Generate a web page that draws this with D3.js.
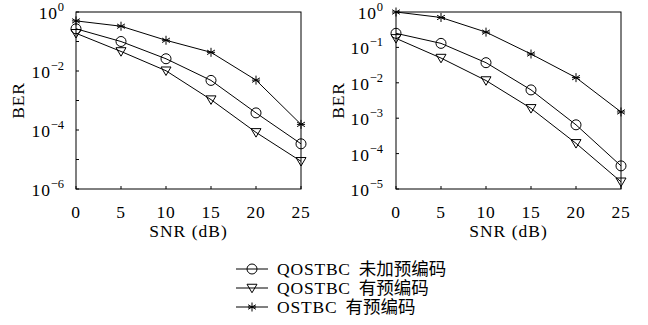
<!DOCTYPE html>
<html>
<head>
<meta charset="utf-8">
<script src="https://cdn.jsdelivr.net/npm/d3@7"></script>
<style>
  body { margin: 0; background: #fff; }
</style>
</head>
<body>
<div id="chart"></div>
<script>
// SNR points (dB)
const snr = [0, 5, 10, 15, 20, 25];

// left panel BER
const leftQoNo  = [0.27, 0.10, 0.026, 0.0048, 3.8e-4, 3.4e-5];
const leftQoPre = [0.19, 0.046, 0.0102, 0.00107, 8.3e-5, 8.7e-6];
const leftOPre  = [0.5, 0.33, 0.11, 0.043, 0.0049, 1.55e-4];

// right panel BER
const rightQoNo  = [0.25, 0.13, 0.037, 0.0063, 6.5e-4, 4.5e-5];
const rightQoPre = [0.18, 0.05, 0.0116, 0.0019, 1.95e-4, 1.6e-5];
const rightOPre  = [1.0, 0.7, 0.27, 0.065, 0.014, 0.0015];

const xTicks = [0, 5, 10, 15, 20, 25];
const leftExps = [0, -1, -2, -3, -4, -5, -6];
const leftLabelExps = [0, -2, -4, -6];
const rightExps = [0, -1, -2, -3, -4, -5];
const rightLabelExps = [0, -1, -2, -3, -4, -5];

const seriesLatin = ["QOSTBC", "QOSTBC", "OSTBC"];
const seriesCjk = ["未加预编码", "有预编码", "有预编码"];
const markers = ["circle", "triangle", "star"];

const FONT = "Liberation Serif";
const CJK = "Noto Sans CJK SC";
const FS = 17.5;

const W = 648, H = 325;
const svg = d3.select("#chart").append("svg")
  .attr("width", W).attr("height", H);

// every text gets its font set inline
function txt(g, fam) {
  fam = fam || FONT;
  return g.append("text").attr("font-family", fam).style("font-family", fam)
    .style("font-size", FS + "px").attr("fill", "#000");
}

function drawMarker(g, type, x, y) {
  if (type === "circle") {
    g.append("circle").attr("cx", x).attr("cy", y).attr("r", 5)
      .attr("fill", "none").attr("stroke", "#000").attr("stroke-width", 1);
  } else if (type === "triangle") {
    const s = 5;
    g.append("path")
      .attr("d", `M${x - s},${y - s * 0.75}L${x + s},${y - s * 0.75}L${x},${y + s * 0.95}Z`)
      .attr("fill", "none").attr("stroke", "#000").attr("stroke-width", 1);
  } else {
    const s = 4.5;
    const p = [];
    [0, 60, 120].forEach(a => {
      const r = a * Math.PI / 180;
      const dx = s * Math.sin(r), dy = s * Math.cos(r);
      p.push(`M${x - dx},${y - dy}L${x + dx},${y + dy}`);
    });
    p.push(`M${x - s * 0.9},${y}L${x + s * 0.9},${y}`);
    g.append("path").attr("d", p.join("")).attr("stroke", "#000").attr("stroke-width", 1);
  }
}

function panel(box, yMinExp, exps, labelExps, data) {
  const x = d3.scaleLinear().domain([0, 25]).range([box.l, box.r]);
  const y = d3.scaleLog().domain([Math.pow(10, yMinExp), 1]).range([box.b, box.t]);
  const g = svg.append("g");

  // frame
  g.append("rect").attr("x", box.l).attr("y", box.t)
    .attr("width", box.r - box.l).attr("height", box.b - box.t)
    .attr("fill", "none").attr("stroke", "#000").attr("stroke-width", 1);

  // x ticks (inward)
  xTicks.forEach(v => {
    g.append("line").attr("x1", x(v)).attr("x2", x(v))
      .attr("y1", box.b).attr("y2", box.b - 3).attr("stroke", "#000");
    txt(g).attr("x", x(v)).attr("y", box.b + 29)
      .attr("text-anchor", "middle")
      .style("letter-spacing", "0.8px").text(v);
  });

  // y ticks
  exps.forEach(e => {
    const yy = y(Math.pow(10, e));
    g.append("line").attr("x1", box.l).attr("x2", box.l + 3)
      .attr("y1", yy).attr("y2", yy).attr("stroke", "#000");
  });
  labelExps.forEach(e => {
    const yy = y(Math.pow(10, e));
    const t = txt(g).attr("x", box.l - box.gap).attr("y", yy + 7)
      .attr("text-anchor", "end");
    t.append("tspan").style("letter-spacing", "0.8px").text("10");
    t.append("tspan").attr("dy", -8).style("font-size", "12.5px")
      .text(e === 0 ? "0" : "\u2212" + (-e));
  });

  txt(g).attr("transform", `translate(${box.l - 52},${(box.t + box.b) / 2}) rotate(-90)`)
    .attr("text-anchor", "middle")
    .style("letter-spacing", "0.8px").text("BER");
  txt(g).attr("x", (box.l + box.r) / 2).attr("y", box.b + 48)
    .attr("text-anchor", "middle")
    .style("letter-spacing", "1px").text("SNR (dB)");

  const line = d3.line().x((d, i) => x(snr[i])).y(d => y(d));
  data.forEach((s, k) => {
    g.append("path").attr("d", line(s)).attr("fill", "none")
      .attr("stroke", "#000").attr("stroke-width", 1);
    s.forEach((v, i) => drawMarker(g, markers[k], x(snr[i]), y(v)));
  });
}

panel({ l: 76, r: 301, t: 12, b: 189, gap: 12 }, -6, leftExps, leftLabelExps,
  [leftQoNo, leftQoPre, leftOPre]);
panel({ l: 396, r: 621, t: 12, b: 189, gap: 13 }, -5, rightExps, rightLabelExps,
  [rightQoNo, rightQoPre, rightOPre]);

// legend
const lg = svg.append("g");
seriesLatin.forEach((name, k) => {
  const yy = 269 + k * 19;
  lg.append("line").attr("x1", 236).attr("x2", 268).attr("y1", yy).attr("y2", yy)
    .attr("stroke", "#000").attr("stroke-width", 1);
  drawMarker(lg, markers[k], 252, yy);
  const t = txt(lg).attr("x", 277).attr("y", yy + 5.5)
    .style("letter-spacing", "0.8px").text(name);
  const w = t.node().getComputedTextLength();
  txt(lg, CJK).attr("x", 277 + w + 8).attr("y", yy + 5.5).text(seriesCjk[k]);
});
</script>
</body>
</html>
